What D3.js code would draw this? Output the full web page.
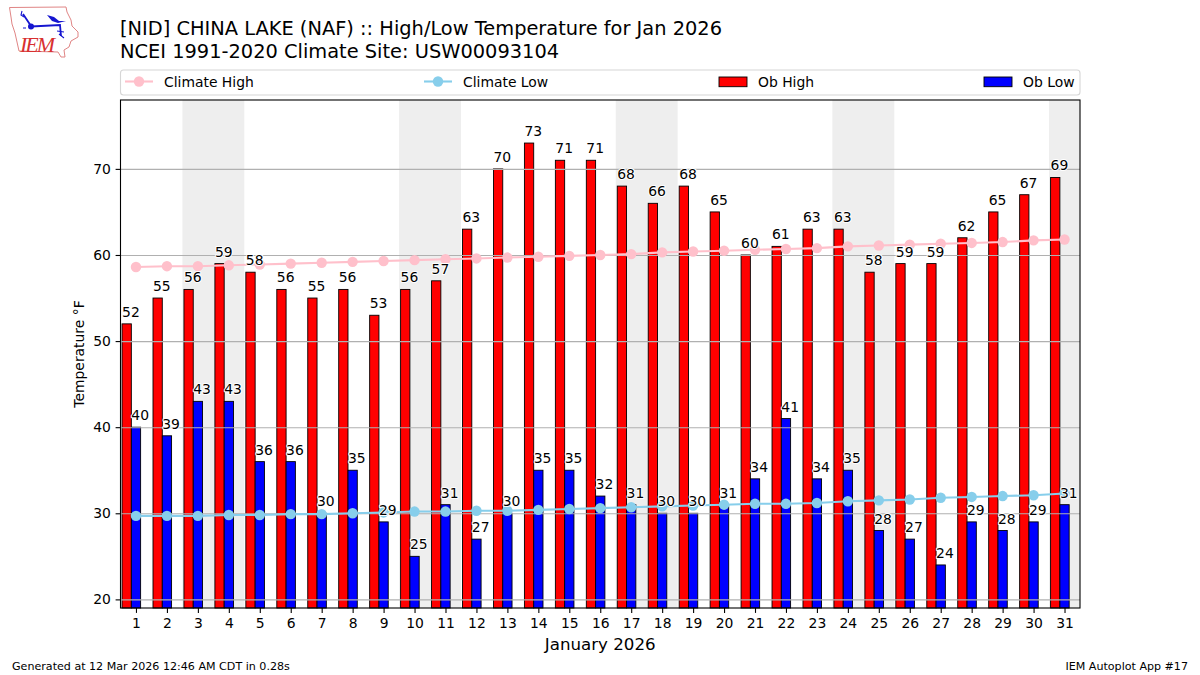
<!DOCTYPE html>
<html><head><meta charset="utf-8">
<script src="https://cdn.jsdelivr.net/npm/d3@7"></script>
<style>html,body{margin:0;padding:0;background:#fff}svg{display:block}text{font-family:"DejaVu Sans";fill:#000}</style>
</head><body><div id="chart"></div>
<script>
const days=d3.range(1,32);
const obHigh=[52,55,56,59,58,56,55,56,53,56,57,63,70,73,71,71,68,66,68,65,60,61,63,63,58,59,59,62,65,67,69];
const obLow=[40,39,43,43,36,36,30,35,29,25,31,27,30,35,35,32,31,30,30,31,34,41,34,35,28,27,24,29,28,29,31];
const climHigh=[58.6,58.7,58.7,58.8,58.9,59.0,59.1,59.2,59.3,59.4,59.5,59.6,59.7,59.8,59.9,60.0,60.1,60.3,60.4,60.5,60.6,60.7,60.8,61.0,61.1,61.2,61.3,61.4,61.5,61.7,61.8];
const climLow=[29.7,29.7,29.7,29.8,29.8,29.9,29.9,30.0,30.1,30.2,30.2,30.3,30.3,30.4,30.5,30.6,30.7,30.8,30.9,31.0,31.1,31.1,31.2,31.4,31.5,31.6,31.8,31.9,32.0,32.1,32.3];
const weekends=[[2.5,4.5],[9.5,11.5],[16.5,18.5],[23.5,25.5],[30.5,31.5]];
const yTicks=[20,30,40,50,60,70];
const titleLines=["[NID] CHINA LAKE (NAF) :: High/Low Temperature for Jan 2026","NCEI 1991-2020 Climate Site: USW00093104"];
const legendItems=[["Climate High","line","pink",125],["Climate Low","line","skyblue",424],["Ob High","bar","red",719],["Ob Low","bar","blue",984]];

const W=1200,H=675,L=120.5,R=1080,T=100,B=608;
const svg=d3.select("#chart").append("svg").attr("width",W).attr("height",H);
const x=d3.scaleLinear().domain([0.5,31.5]).range([L,R]);
const y=d3.scaleLinear().domain([19,78]).range([B,T]);
const bw=x(1.3)-x(1);

svg.append("g").selectAll("rect").data(weekends).join("rect")
 .attr("x",d=>x(d[0])).attr("width",d=>x(d[1])-x(d[0])).attr("y",T).attr("height",B-T).attr("fill","#eeeeee");
// bars
const bars=(vals,fill,off)=>svg.append("g").selectAll("rect").data(vals).join("rect")
 .attr("x",(d,i)=>x(days[i]+off)).attr("width",bw).attr("y",d=>y(d)).attr("height",d=>B-y(d))
 .attr("fill",fill).attr("stroke","#000").attr("stroke-width",0.9);
bars(obHigh,"red",-0.45);
bars(obLow,"blue",-0.15);
// grid above bars
svg.append("g").selectAll("line").data(yTicks).join("line")
 .attr("x1",L).attr("x2",R).attr("y1",d=>y(d)+.5).attr("y2",d=>y(d)+.5)
 .attr("stroke","#b0b0b0").attr("stroke-width",1.1);
// climate lines
const ln=d3.line().x((d,i)=>x(days[i])).y(d=>y(d));
[[climHigh,"pink"],[climLow,"skyblue"]].forEach(([v,c])=>{
 svg.append("path").attr("d",ln(v)).attr("fill","none").attr("stroke",c).attr("stroke-width",2.1);
 svg.append("g").selectAll("circle").data(v).join("circle")
  .attr("cx",(d,i)=>x(days[i])).attr("cy",d=>y(d)).attr("r",5.2).attr("fill",c);
});
// value labels
const labels=(vals,off)=>svg.append("g").selectAll("text").data(vals).join("text")
 .attr("x",(d,i)=>x(days[i]+off)).attr("y",d=>y(d)-7).text(d=>d)
 .attr("font-size",13.9).attr("stroke","#fff").attr("stroke-width",2).attr("paint-order","stroke").attr("stroke-linejoin","round");
labels(obHigh,-0.45);
labels(obLow,-0.15);
// frame and axes
svg.append("rect").attr("x",L).attr("y",T).attr("width",R-L).attr("height",B-T).attr("fill","none").attr("stroke","#000").attr("stroke-width",1.1);
const xAxis=d3.axisBottom(x).tickValues(days).tickFormat(d3.format("d")).tickSize(4.9).tickPadding(4.8);
const yAxis=d3.axisLeft(y).tickValues(yTicks).tickSize(4.9).tickPadding(4.8);
[svg.append("g").attr("transform",`translate(0,${B})`).call(xAxis),
 svg.append("g").attr("transform",`translate(${L},0)`).call(yAxis)].forEach(g=>{
 g.select(".domain").remove();
 g.selectAll("line").attr("stroke","#000").attr("stroke-width",1.1);
 g.selectAll("text").attr("font-size",13.9).attr("font-family","DejaVu Sans").attr("fill","#000");
});
svg.append("text").attr("x",(L+R)/2).attr("y",649.5).attr("text-anchor","middle").attr("font-size",16.67).text("January 2026");
svg.append("text").attr("transform",`translate(84,${(T+B)/2}) rotate(-90)`).attr("text-anchor","middle").attr("font-size",13.9).text("Temperature °F");
titleLines.forEach((t,i)=>svg.append("text").attr("x",120).attr("y",35+i*22.7).attr("font-size",19.4).text(t));
// legend
svg.append("rect").attr("x",L).attr("y",70).attr("width",R-L).attr("height",25).attr("rx",3).attr("fill","#fff").attr("stroke","#d6d6d6").attr("stroke-width",1.1);
legendItems.forEach(([label,kind,c,lx])=>{
 const g=svg.append("g");
 if(kind==="line"){
  g.append("line").attr("x1",lx).attr("x2",lx+28).attr("y1",81.5).attr("y2",81.5).attr("stroke",c).attr("stroke-width",2.1);
  g.append("circle").attr("cx",lx+14).attr("cy",81.5).attr("r",5.2).attr("fill",c);
 } else {
  g.append("rect").attr("x",lx).attr("y",77).attr("width",28).attr("height",9.7).attr("fill",c).attr("stroke","#000").attr("stroke-width",.9);
 }
 g.append("text").attr("x",lx+39).attr("y",86.5).attr("font-size",13.9).text(label);
});
// footer
svg.append("text").attr("x",12).attr("y",670).attr("font-size",11.1).text("Generated at 12 Mar 2026 12:46 AM CDT in 0.28s");
svg.append("text").attr("x",1188).attr("y",670).attr("text-anchor","end").attr("font-size",11.1).text("IEM Autoplot App #17");
// logo
const logo=svg.append("g");
logo.append("path").attr("d","M9.5 7.5 L66 7 L67 12 L71 20 L72 26 L78 32 L78 37 L71 41 L69 47 L64 50 L65 57 L61 57 L58 52 L19 51 L17 42 L15 33 L12 24 L11 17 Z").attr("fill","#fff").attr("stroke","#e08585").attr("stroke-width",1);
logo.append("path").attr("d","M31 26.5 L60 25 L61 36 M23 14 L31 26").attr("fill","none").attr("stroke","#1515d0").attr("stroke-width",1.8);
logo.append("circle").attr("cx",31).attr("cy",26.5).attr("r",3).attr("fill","#1515d0");
logo.append("path").attr("d","M47 15 L54 17 L59 21 L66 21 L58 23 L52 21 Z").attr("fill","#1515d0");
logo.append("path").attr("d","M22 11 L21 15 L24 17 M57 31 L64 32 M59 34 L64 38 M23 28 L26 28").attr("fill","none").attr("stroke","#1515d0").attr("stroke-width",1.1);
logo.append("text").attr("x",20).attr("y",52).attr("font-style","italic").attr("font-size",22).attr("style","font-family:'Liberation Serif';fill:#d83030").attr("textLength",35).text("IEM");
</script></body></html>
